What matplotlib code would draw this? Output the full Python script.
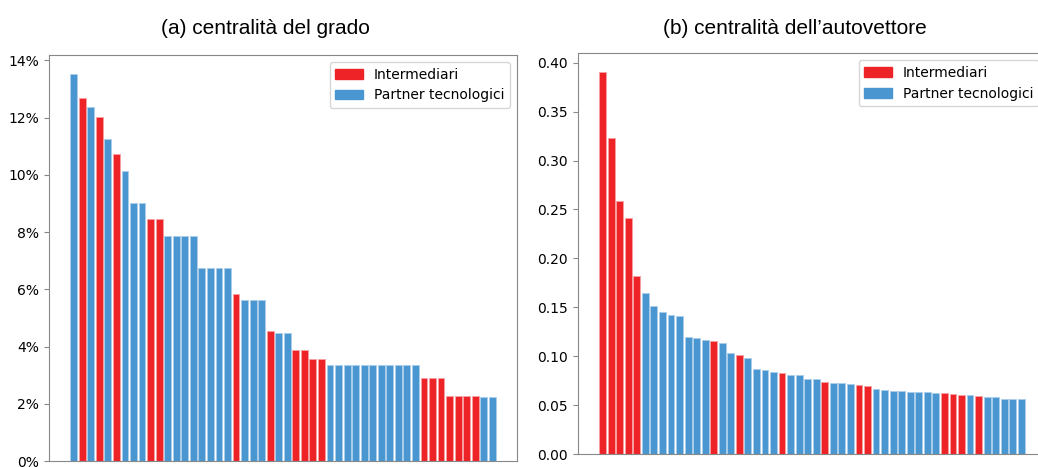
import matplotlib.pyplot as plt
from matplotlib.patches import Patch
from matplotlib.ticker import FuncFormatter

RED = '#EE2328'
BLUE = '#4996D1'
EDGE = {'I': '#F6A0A2', 'P': '#A9CDEA'}
COL = {'I': RED, 'P': BLUE}

# (a) centralita' del grado, in percent
grado = [13.51, 12.70, 12.38, 12.03, 11.26, 10.74, 10.13, 9.00, 9.00, 8.45,
         8.45, 7.86, 7.86, 7.86, 7.86, 6.73, 6.73, 6.73, 6.73, 5.85,
         5.62, 5.62, 5.62, 4.53, 4.49, 4.49, 3.89, 3.89, 3.58, 3.58,
         3.37, 3.37, 3.37, 3.37, 3.37, 3.37, 3.37, 3.37, 3.37, 3.37,
         3.37, 2.91, 2.91, 2.91, 2.26, 2.26, 2.26, 2.26, 2.24, 2.24]
grado_tipo = ['P', 'I', 'P', 'I', 'P', 'I', 'P', 'P', 'P', 'I',
              'I', 'P', 'P', 'P', 'P', 'P', 'P', 'P', 'P', 'I',
              'P', 'P', 'P', 'I', 'P', 'P', 'I', 'I', 'I', 'I',
              'P', 'P', 'P', 'P', 'P', 'P', 'P', 'P', 'P', 'P',
              'P', 'I', 'I', 'I', 'I', 'I', 'I', 'I', 'P', 'P']

# (b) centralita' dell'autovettore
autov = [0.390, 0.323, 0.259, 0.241, 0.182, 0.165, 0.151, 0.145, 0.142, 0.141,
         0.120, 0.119, 0.117, 0.116, 0.114, 0.103, 0.101, 0.098, 0.087, 0.086,
         0.084, 0.083, 0.081, 0.081, 0.077, 0.077, 0.074, 0.073, 0.073, 0.072,
         0.071, 0.070, 0.067, 0.066, 0.065, 0.065, 0.064, 0.064, 0.064, 0.063,
         0.063, 0.062, 0.061, 0.061, 0.060, 0.058, 0.058, 0.056, 0.056, 0.056]
autov_tipo = ['I', 'I', 'I', 'I', 'I', 'P', 'P', 'P', 'P', 'P',
              'P', 'P', 'P', 'I', 'P', 'P', 'I', 'P', 'P', 'P',
              'P', 'I', 'P', 'P', 'P', 'P', 'I', 'P', 'P', 'P',
              'I', 'I', 'P', 'P', 'P', 'P', 'P', 'P', 'P', 'P',
              'I', 'I', 'I', 'P', 'I', 'P', 'P', 'P', 'P', 'P']

legenda = ['Intermediari', 'Partner tecnologici']


def disegna(ax, valori, tipi):
    ax.bar(range(len(valori)), valori, width=0.8,
           color=[COL[t] for t in tipi],
           edgecolor=[EDGE[t] for t in tipi], linewidth=0.6)
    ax.set_xticks([])
    for s in ax.spines.values():
        s.set_color('#888888')
    ax.tick_params(axis='y', colors='#888888', labelcolor='black', labelsize=10)
    handles = [Patch(color=RED), Patch(color=BLUE)]
    ax.legend(handles, legenda, loc='upper right', fontsize=10)


fig = plt.figure(figsize=(10.38, 4.67), dpi=100)
ax1 = fig.add_axes([0.0472, 0.0128, 0.4509, 0.8694])
ax2 = fig.add_axes([0.5568, 0.0272, 0.4509, 0.8587])

disegna(ax1, grado, grado_tipo)
ax1.set_yticks(range(0, 15, 2))
ax1.yaxis.set_major_formatter(FuncFormatter(lambda v, p: '%d%%' % v))

disegna(ax2, autov, autov_tipo)
ax2.set_yticks([0.0, 0.05, 0.10, 0.15, 0.20, 0.25, 0.30, 0.35, 0.40])
ax2.yaxis.set_major_formatter(FuncFormatter(lambda v, p: '%.2f' % v))

fig.text(0.2553, 0.940, '(a) centralità del grado', ha='center', va='center',
         fontsize=15, family='Liberation Sans')
fig.text(0.766, 0.940, '(b) centralità dell\u2019autovettore', ha='center', va='center',
         fontsize=15, family='Liberation Sans')

fig.savefig('out.png', dpi=100)
